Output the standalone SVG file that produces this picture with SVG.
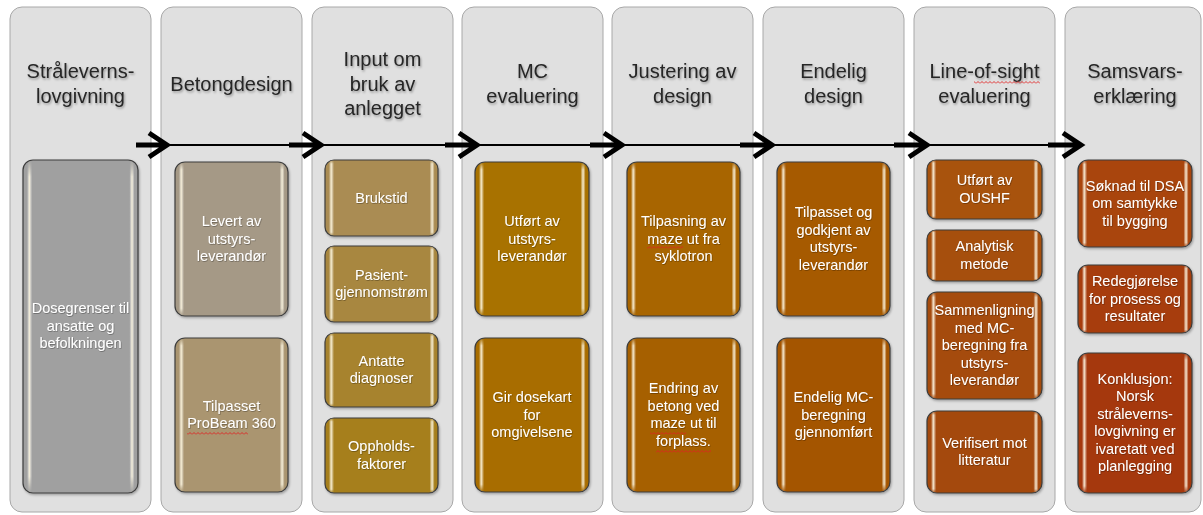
<svg xmlns="http://www.w3.org/2000/svg" width="1203" height="515" viewBox="0 0 1203 515">
<defs>
<style>
.panel{fill:#e0e0e0;stroke:#a8a8a8;stroke-width:1}
.title{font-family:"Liberation Sans",Arial,sans-serif;font-size:20px;fill:#262626;text-anchor:middle}
.box{stroke:#3c3c3c;stroke-width:1.2}
.gloss{fill:url(#hl);stroke:none}
.lbl{font-family:"Liberation Sans",Arial,sans-serif;font-size:14.5px;fill:#ffffff;text-anchor:middle}
.thin{stroke:#000;stroke-width:2;fill:none}
.arr{stroke:#000;stroke-width:5;fill:none;stroke-linejoin:miter}
.sq{fill:url(#squig)}
</style>
<filter id="tsh" x="-10%" y="-30%" width="120%" height="160%">
<feDropShadow dx="1" dy="1.5" stdDeviation="1" flood-color="#000" flood-opacity="0.35"/>
</filter>
<filter id="lsh" x="-10%" y="-30%" width="120%" height="160%">
<feDropShadow dx="0.6" dy="0.8" stdDeviation="0.6" flood-color="#000" flood-opacity="0.35"/>
</filter>
<filter id="bsh" x="-10%" y="-10%" width="120%" height="120%">
<feDropShadow dx="1" dy="1.5" stdDeviation="1.2" flood-color="#000" flood-opacity="0.3"/>
</filter>
<linearGradient id="hl" x1="0" y1="0" x2="1" y2="0">
<stop offset="0" stop-color="#fff" stop-opacity="0"/>
<stop offset="0.035" stop-color="#fff" stop-opacity="0"/>
<stop offset="0.055" stop-color="#fff8e0" stop-opacity="0.9"/>
<stop offset="0.08" stop-color="#fff" stop-opacity="0"/>
<stop offset="0.925" stop-color="#fff" stop-opacity="0"/>
<stop offset="0.948" stop-color="#fff8e0" stop-opacity="0.9"/>
<stop offset="0.97" stop-color="#fff" stop-opacity="0"/>
<stop offset="1" stop-color="#fff" stop-opacity="0"/>
</linearGradient>
<linearGradient id="vf" x1="0" y1="0" x2="0" y2="1">
<stop offset="0" stop-color="#000"/>
<stop offset="0.05" stop-color="#fff"/>
<stop offset="0.95" stop-color="#fff"/>
<stop offset="1" stop-color="#000"/>
</linearGradient>
<mask id="vm" maskContentUnits="objectBoundingBox">
<rect x="0" y="0" width="1" height="1" fill="url(#vf)"/>
</mask>
<pattern id="squig" x="0" y="0" width="4" height="3" patternUnits="userSpaceOnUse">
<path d="M0 2.5 L2 0.5 L4 2.5" fill="none" stroke="#e02020" stroke-width="0.9"/>
</pattern>
</defs>

<rect width="1203" height="515" fill="#ffffff"/>

<g id="panels">
<g id="p1"><rect class="panel" x="10" y="7" width="141" height="505" rx="12"/>
<text class="title" filter="url(#tsh)"><tspan x="80.5" y="78">Stråleverns-</tspan><tspan x="80.5" y="103">lovgivning</tspan></text></g>
<g id="p2"><rect class="panel" x="161" y="7" width="141" height="505" rx="12"/>
<text class="title" filter="url(#tsh)"><tspan x="231.5" y="91">Betongdesign</tspan></text></g>
<g id="p3"><rect class="panel" x="312" y="7" width="141" height="505" rx="12"/>
<text class="title" filter="url(#tsh)"><tspan x="382.5" y="66">Input om</tspan><tspan x="382.5" y="91">bruk av</tspan><tspan x="382.5" y="115">anlegget</tspan></text></g>
<g id="p4"><rect class="panel" x="462" y="7" width="141" height="505" rx="12"/>
<text class="title" filter="url(#tsh)"><tspan x="532.5" y="78">MC</tspan><tspan x="532.5" y="103">evaluering</tspan></text></g>
<g id="p5"><rect class="panel" x="612" y="7" width="141" height="505" rx="12"/>
<text class="title" filter="url(#tsh)"><tspan x="682.5" y="78">Justering av</tspan><tspan x="682.5" y="103">design</tspan></text></g>
<g id="p6"><rect class="panel" x="763" y="7" width="141" height="505" rx="12"/>
<text class="title" filter="url(#tsh)"><tspan x="833.5" y="78">Endelig</tspan><tspan x="833.5" y="103">design</tspan></text></g>
<g id="p7"><rect class="panel" x="914" y="7" width="141" height="505" rx="12"/>
<text class="title" filter="url(#tsh)"><tspan x="984.5" y="78">Line-of-sight</tspan><tspan x="984.5" y="103">evaluering</tspan></text></g>
<g id="p8"><rect class="panel" x="1065" y="7" width="136" height="505" rx="12"/>
<text class="title" filter="url(#tsh)"><tspan x="1135" y="78">Samsvars-</tspan><tspan x="1135" y="103">erklæring</tspan></text></g>
</g>

<g id="connectors">
<line class="thin" x1="136" y1="145" x2="1081" y2="145"/>
<path class="arr" d="M136 145 H165 M149 133 L167 145 L149 157"/>
<path class="arr" d="M289 145 H319 M303 133 L321 145 L303 157"/>
<path class="arr" d="M445 145 H475 M459 133 L477 145 L459 157"/>
<path class="arr" d="M590 145 H620 M604 133 L622 145 L604 157"/>
<path class="arr" d="M740 145 H770 M754 133 L772 145 L754 157"/>
<path class="arr" d="M894 145 H925 M909 133 L927 145 L909 157"/>
<path class="arr" d="M1048 145 H1079 M1063 133 L1081 145 L1063 157"/>
</g>

<g id="boxes">
<g id="b1"><rect class="box" filter="url(#bsh)" x="23" y="160" width="115" height="333" rx="10" fill="#a0a0a0"/><rect class="gloss" mask="url(#vm)" x="23" y="160" width="115" height="333" rx="10"/>
<text class="lbl" filter="url(#lsh)"><tspan x="80.5" y="313.25">Dosegrenser til</tspan><tspan x="80.5" y="330.75">ansatte og</tspan><tspan x="80.5" y="348.25">befolkningen</tspan></text></g>

<g id="b2a"><rect class="box" filter="url(#bsh)" x="175" y="162" width="113" height="154" rx="10" fill="#a59986"/><rect class="gloss" mask="url(#vm)" x="175" y="162" width="113" height="154" rx="10"/>
<text class="lbl" filter="url(#lsh)"><tspan x="231.5" y="226">Levert av</tspan><tspan x="231.5" y="243.5">utstyrs-</tspan><tspan x="231.5" y="261">leverandør</tspan></text></g>
<g id="b2b"><rect class="box" filter="url(#bsh)" x="175" y="338" width="113" height="154" rx="10" fill="#aa956f"/><rect class="gloss" mask="url(#vm)" x="175" y="338" width="113" height="154" rx="10"/>
<text class="lbl" filter="url(#lsh)"><tspan x="231.5" y="410.75">Tilpasset</tspan><tspan x="231.5" y="428.25">ProBeam 360</tspan></text>
<rect class="sq" x="187" y="432" width="61" height="3"/></g>

<g id="b3a"><rect class="box" filter="url(#bsh)" x="325" y="160" width="113" height="76" rx="9" fill="#aa8c52"/><rect class="gloss" mask="url(#vm)" x="325" y="160" width="113" height="76" rx="9"/>
<text class="lbl" filter="url(#lsh)"><tspan x="381.5" y="202.5">Brukstid</tspan></text></g>
<g id="b3b"><rect class="box" filter="url(#bsh)" x="325" y="246" width="113" height="76" rx="9" fill="#a88740"/><rect class="gloss" mask="url(#vm)" x="325" y="246" width="113" height="76" rx="9"/>
<text class="lbl" filter="url(#lsh)"><tspan x="381.5" y="279.75">Pasient-</tspan><tspan x="381.5" y="297.25">gjennomstrøm</tspan></text></g>
<g id="b3c"><rect class="box" filter="url(#bsh)" x="325" y="333" width="113" height="74" rx="9" fill="#a7832f"/><rect class="gloss" mask="url(#vm)" x="325" y="333" width="113" height="74" rx="9"/>
<text class="lbl" filter="url(#lsh)"><tspan x="381.5" y="365.75">Antatte</tspan><tspan x="381.5" y="383.25">diagnoser</tspan></text></g>
<g id="b3d"><rect class="box" filter="url(#bsh)" x="325" y="418" width="113" height="75" rx="9" fill="#a67f1e"/><rect class="gloss" mask="url(#vm)" x="325" y="418" width="113" height="75" rx="9"/>
<text class="lbl" filter="url(#lsh)"><tspan x="381.5" y="451.25">Oppholds-</tspan><tspan x="381.5" y="468.75">faktorer</tspan></text></g>

<g id="b4a"><rect class="box" filter="url(#bsh)" x="475" y="162" width="114" height="154" rx="10" fill="#a87200"/><rect class="gloss" mask="url(#vm)" x="475" y="162" width="114" height="154" rx="10"/>
<text class="lbl" filter="url(#lsh)"><tspan x="532" y="226">Utført av</tspan><tspan x="532" y="243.5">utstyrs-</tspan><tspan x="532" y="261">leverandør</tspan></text></g>
<g id="b4b"><rect class="box" filter="url(#bsh)" x="475" y="338" width="114" height="154" rx="10" fill="#a86d00"/><rect class="gloss" mask="url(#vm)" x="475" y="338" width="114" height="154" rx="10"/>
<text class="lbl" filter="url(#lsh)"><tspan x="532" y="402">Gir dosekart</tspan><tspan x="532" y="419.5">for</tspan><tspan x="532" y="437">omgivelsene</tspan></text></g>

<g id="b5a"><rect class="box" filter="url(#bsh)" x="627" y="162" width="113" height="154" rx="10" fill="#a86500"/><rect class="gloss" mask="url(#vm)" x="627" y="162" width="113" height="154" rx="10"/>
<text class="lbl" filter="url(#lsh)"><tspan x="683.5" y="226">Tilpasning av</tspan><tspan x="683.5" y="243.5">maze ut fra</tspan><tspan x="683.5" y="261">syklotron</tspan></text>
<rect class="sq" x="647" y="246" width="36" height="3"/></g>
<g id="b5b"><rect class="box" filter="url(#bsh)" x="627" y="338" width="113" height="154" rx="10" fill="#a66102"/><rect class="gloss" mask="url(#vm)" x="627" y="338" width="113" height="154" rx="10"/>
<text class="lbl" filter="url(#lsh)"><tspan x="683.5" y="393.25">Endring av</tspan><tspan x="683.5" y="410.75">betong ved</tspan><tspan x="683.5" y="428.25">maze ut til</tspan><tspan x="683.5" y="445.75">forplass.</tspan></text>
<rect class="sq" x="650" y="432" width="36" height="3"/><rect class="sq" x="656" y="450" width="55" height="3"/></g>

<g id="b6a"><rect class="box" filter="url(#bsh)" x="777" y="162" width="113" height="154" rx="10" fill="#a65a05"/><rect class="gloss" mask="url(#vm)" x="777" y="162" width="113" height="154" rx="10"/>
<text class="lbl" filter="url(#lsh)"><tspan x="833.5" y="217.25">Tilpasset og</tspan><tspan x="833.5" y="234.75">godkjent av</tspan><tspan x="833.5" y="252.25">utstyrs-</tspan><tspan x="833.5" y="269.75">leverandør</tspan></text></g>
<g id="b6b"><rect class="box" filter="url(#bsh)" x="777" y="338" width="113" height="154" rx="10" fill="#a45504"/><rect class="gloss" mask="url(#vm)" x="777" y="338" width="113" height="154" rx="10"/>
<text class="lbl" filter="url(#lsh)"><tspan x="833.5" y="402">Endelig MC-</tspan><tspan x="833.5" y="419.5">beregning</tspan><tspan x="833.5" y="437">gjennomført</tspan></text></g>

<g id="b7a"><rect class="box" filter="url(#bsh)" x="927" y="160" width="115" height="59" rx="9" fill="#a85209"/><rect class="gloss" mask="url(#vm)" x="927" y="160" width="115" height="59" rx="9"/>
<text class="lbl" filter="url(#lsh)"><tspan x="984.5" y="185.25">Utført av</tspan><tspan x="984.5" y="202.75">OUSHF</tspan></text></g>
<g id="b7b"><rect class="box" filter="url(#bsh)" x="927" y="230" width="115" height="51" rx="9" fill="#a64f08"/><rect class="gloss" mask="url(#vm)" x="927" y="230" width="115" height="51" rx="9"/>
<text class="lbl" filter="url(#lsh)"><tspan x="984.5" y="251.25">Analytisk</tspan><tspan x="984.5" y="268.75">metode</tspan></text></g>
<g id="b7c"><rect class="box" filter="url(#bsh)" x="927" y="292" width="115" height="107" rx="10" fill="#a54c08"/><rect class="gloss" mask="url(#vm)" x="927" y="292" width="115" height="107" rx="10"/>
<text class="lbl" filter="url(#lsh)"><tspan x="984.5" y="315">Sammenligning</tspan><tspan x="984.5" y="332.5">med MC-</tspan><tspan x="984.5" y="350">beregning fra</tspan><tspan x="984.5" y="367.5">utstyrs-</tspan><tspan x="984.5" y="385">leverandør</tspan></text></g>
<g id="b7d"><rect class="box" filter="url(#bsh)" x="927" y="411" width="115" height="82" rx="10" fill="#a44908"/><rect class="gloss" mask="url(#vm)" x="927" y="411" width="115" height="82" rx="10"/>
<text class="lbl" filter="url(#lsh)"><tspan x="984.5" y="447.75">Verifisert mot</tspan><tspan x="984.5" y="465.25">litteratur</tspan></text></g>

<g id="b8a"><rect class="box" filter="url(#bsh)" x="1078" y="160" width="114" height="87" rx="10" fill="#a9440f"/><rect class="gloss" mask="url(#vm)" x="1078" y="160" width="114" height="87" rx="10"/>
<text class="lbl" filter="url(#lsh)"><tspan x="1135" y="190.5">Søknad til DSA</tspan><tspan x="1135" y="208">om samtykke</tspan><tspan x="1135" y="225.5">til bygging</tspan></text></g>
<g id="b8b"><rect class="box" filter="url(#bsh)" x="1078" y="265" width="114" height="68" rx="10" fill="#a73e0c"/><rect class="gloss" mask="url(#vm)" x="1078" y="265" width="114" height="68" rx="10"/>
<text class="lbl" filter="url(#lsh)"><tspan x="1135" y="286">Redegjørelse</tspan><tspan x="1135" y="303.5">for prosess og</tspan><tspan x="1135" y="321">resultater</tspan></text></g>
<g id="b8c"><rect class="box" filter="url(#bsh)" x="1078" y="353" width="114" height="140" rx="10" fill="#a5380a"/><rect class="gloss" mask="url(#vm)" x="1078" y="353" width="114" height="140" rx="10"/>
<text class="lbl" filter="url(#lsh)"><tspan x="1135" y="383.75">Konklusjon:</tspan><tspan x="1135" y="401.25">Norsk</tspan><tspan x="1135" y="418.75">stråleverns-</tspan><tspan x="1135" y="436.25">lovgivning er</tspan><tspan x="1135" y="453.75">ivaretatt ved</tspan><tspan x="1135" y="471.25">planlegging</tspan></text></g>
</g>

<rect class="sq" x="974" y="81" width="66" height="3"/>
</svg>
